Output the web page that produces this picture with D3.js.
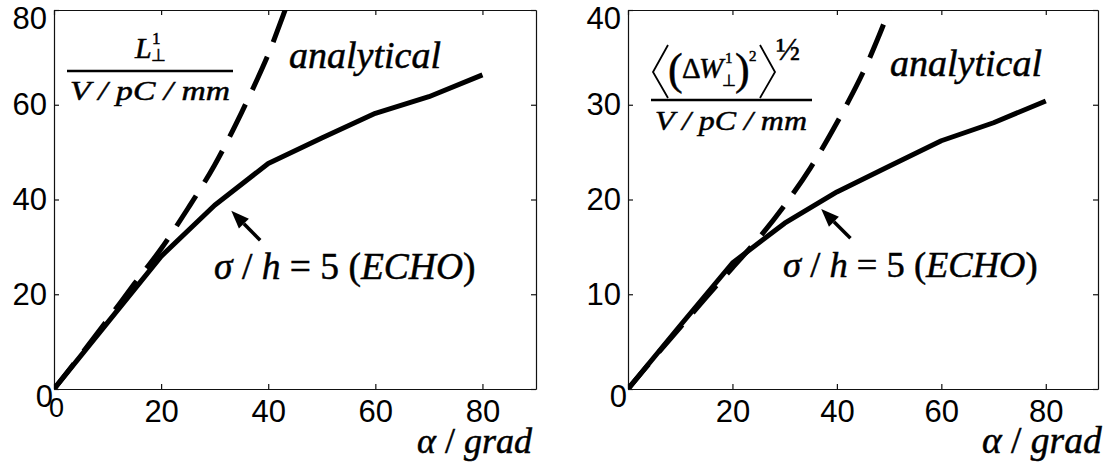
<!DOCTYPE html>
<html><head><meta charset="utf-8">
<script src="https://cdn.jsdelivr.net/npm/d3@7"></script>
<style>
body{margin:0;background:#fff} svg{display:block}
</style>
</head><body>
<svg id="c" width="1114" height="476"></svg>
<script>
// ---- data ----
const alpha = [0,10,20,30,40,50,60,70,80];
const echoL = [0,14,28,38.8,47.6,53,58.2,61.7,66.3];
const echoR = [0,6.7,13.3,17.5,20.8,23.5,26.2,28.1,30.4];
const anaAlphaL = [0,5,10,15,20,25,30,35,40,42,44];
const anaL = [0,7.2,14.6,22.2,29.6,38.1,47.3,58.3,70.6,76.5,82.6];
const anaAlphaR = [0,5,10,15,20,25,30,35,40,45,48,50,51];
const anaR = [0,3.3,6.5,9.7,12.8,15.9,19.4,23.4,28.1,33.4,37.2,40,41.5];
const xTicks = [0,20,40,60,80];
const yTicksL = [0,20,40,60,80];
const yTicksR = [0,10,20,30,40];

const svg = d3.select('#c');
const SERIF = '"Liberation Serif"';
const SANS = '"Liberation Sans"';

// serif text helper
function stxt(g, x, y, size, str, italic){
  return g.append('text').attr('x',x).attr('y',y)
    .style('font-family',SERIF).style('font-size',size+'px')
    .style('font-style', italic ? 'italic' : 'normal')
    .attr('fill','#000').attr('stroke','#000').attr('stroke-width',0.5)
    .text(str);
}

function panel(cfg){
  const g = svg.append('g');
  const x = d3.scaleLinear().domain([0,90]).range([cfg.left,cfg.right]);
  const y = d3.scaleLinear().domain([0,cfg.ymax]).range([cfg.bottom,cfg.top]);
  const id = 'clip'+cfg.id;
  svg.append('clipPath').attr('id',id).append('rect')
    .attr('x',cfg.left).attr('y',cfg.top)
    .attr('width',cfg.right-cfg.left).attr('height',cfg.bottom-cfg.top);

  const styleAxis = sel => {
    sel.attr('font-family',null).attr('font-size',null);
    sel.selectAll('path.domain').attr('stroke','#111').attr('stroke-width',1.2);
    sel.selectAll('.tick line').attr('stroke','#111').attr('stroke-width',1.2);
    sel.selectAll('text').style('font-family',SANS).style('font-size','31px').attr('fill','#000');
  };

  const bx = g.append('g').attr('transform',`translate(0,${cfg.bottom})`)
    .call(d3.axisBottom(x).tickValues(xTicks).tickSizeInner(-5).tickSizeOuter(0).tickPadding(11)
      .tickFormat(d => (d===0 && !cfg.zeroX) ? '' : d));
  styleAxis(bx);
  bx.selectAll('.tick').filter(d=>d===0).select('text').style('font-size','27px').attr('y',9).attr('dx',2);

  const tx = g.append('g').attr('transform',`translate(0,${cfg.top})`)
    .call(d3.axisTop(x).tickValues(xTicks).tickSizeInner(-5).tickSizeOuter(0).tickFormat(''));
  styleAxis(tx);

  const ly = g.append('g').attr('transform',`translate(${cfg.left},0)`)
    .call(d3.axisLeft(y).tickValues(cfg.yticks).tickSizeInner(-5).tickSizeOuter(0).tickPadding(7));
  styleAxis(ly);
  ly.selectAll('.tick').filter(d=>d===cfg.ymax).select('text').attr('dy','0.6em');
  ly.selectAll('.tick').filter(d=>d===0).select('text').attr('x',-1).attr('dy','0.57em');

  const ry = g.append('g').attr('transform',`translate(${cfg.right},0)`)
    .call(d3.axisRight(y).tickValues(cfg.yticks).tickSizeInner(-5).tickSizeOuter(0).tickFormat(''));
  styleAxis(ry);

  const cg = g.append('g').attr('clip-path',`url(#${id})`);
  const lineLin = d3.line().x(d=>x(d[0])).y(d=>y(d[1])).curve(d3.curveLinear);
  const lineSm = d3.line().x(d=>x(d[0])).y(d=>y(d[1])).curve(d3.curveCatmullRom.alpha(0.5));

  cg.append('path').datum(cfg.anaX.map((a,i)=>[a,cfg.anaY[i]]))
    .attr('d',lineSm).attr('fill','none').attr('stroke','#000').attr('stroke-width',5)
    .attr('stroke-dasharray','36,16').attr('stroke-dashoffset',cfg.dashOff);
  cg.append('path').datum(alpha.map((a,i)=>[a,cfg.echo[i]]))
    .attr('d',lineLin).attr('fill','none').attr('stroke','#000').attr('stroke-width',5)
    .attr('stroke-linejoin','round');

  // arrow
  const [ta,tv] = cfg.arrowTail, [ha,hv] = cfg.arrowHead;
  const x1=x(ta), y1=y(tv), x2=x(ha), y2=y(hv);
  const ang = Math.atan2(y2-y1,x2-x1), L=18, Wd=7;
  const bxp = x2 - L*Math.cos(ang), byp = y2 - L*Math.sin(ang);
  g.append('line').attr('x1',x1).attr('y1',y1).attr('x2',bxp).attr('y2',byp)
    .attr('stroke','#000').attr('stroke-width',3.5);
  g.append('polygon').attr('points',[
    [x2,y2],
    [bxp + Wd*Math.sin(ang), byp - Wd*Math.cos(ang)],
    [bxp - Wd*Math.sin(ang), byp + Wd*Math.cos(ang)]
  ].map(p=>p.join(',')).join(' ')).attr('fill','#000');

  // texts
  stxt(g, cfg.anaLab[0], cfg.anaLab[1], 38, 'analytical', true);

  const t = stxt(g, cfg.echoLab[0], cfg.echoLab[1], cfg.echoSize, null, false).style('white-space','pre');
  t.append('tspan').style('font-style','italic').text('σ');
  t.append('tspan').text(' / ');
  t.append('tspan').style('font-style','italic').text('h');
  t.append('tspan').text(' = 5 (');
  t.append('tspan').style('font-style','italic').text('ECHO');
  t.append('tspan').text(')');

  const xl = stxt(g, cfg.xLab[0], cfg.xLab[1], cfg.xLabSize, null, false).style('white-space','pre');
  xl.append('tspan').style('font-style','italic').text('α');
  xl.append('tspan').text(' / ');
  xl.append('tspan').style('font-style','italic').text('grad');

  return {g,x,y};
}

const P1 = panel({id:1,left:54,right:536,top:10,bottom:389,ymax:80,yticks:yTicksL,zeroX:true,
  echo:echoL,anaX:anaAlphaL,anaY:anaL,dashOff:4,
  arrowTail:[38.5,31.4],arrowHead:[33.1,37.6],
  anaLab:[289,68],echoLab:[214,279],echoSize:37.5,xLab:[417,453],xLabSize:36});
const P2 = panel({id:2,left:628,right:1098,top:10,bottom:389,ymax:40,yticks:yTicksR,zeroX:false,
  echo:echoR,anaX:anaAlphaR,anaY:anaR,dashOff:4,
  arrowTail:[42.6,15.9],arrowHead:[37,19],
  anaLab:[890,76],echoLab:[783,277],echoSize:36.5,xLab:[982,453],xLabSize:37.5});

// ---- y-axis label, left: L^1_perp / (V/pC/mm) ----
{
  const g = P1.g;
  stxt(g,135,58,30,'L',true);
  stxt(g,152,44,17,'1',false);
  stxt(g,151,61,17,'⊥',false);
  g.append('line').attr('x1',67).attr('x2',233).attr('y1',71).attr('y2',71).attr('stroke','#000').attr('stroke-width',2.5);
  stxt(g,70,100,28,'V / pC / mm',true)
    .attr('textLength',160).attr('lengthAdjust','spacingAndGlyphs').style('white-space','pre');
}
// ---- y-axis label, right: <(ΔW^1_perp)^2>^(1/2) / (V/pC/mm) ----
{
  const g = P2.g;
  g.append('path').attr('d','M668,45 L653,72 L668,98').attr('fill','none').attr('stroke','#000').attr('stroke-width',1.8);
  g.append('path').attr('d','M760,45 L775,72 L760,98').attr('fill','none').attr('stroke','#000').attr('stroke-width',1.8);
  stxt(g,668,84,44,'(',false);
  stxt(g,682,78,29,'Δ',false);
  stxt(g,699,78,29,'W',true);
  stxt(g,725,63,15,'1',false);
  stxt(g,722,86,16,'⊥',false);
  stxt(g,735,84,44,')',false);
  stxt(g,749,61,15,'2',false);
  stxt(g,776,60,32,'½',false);
  g.append('line').attr('x1',651).attr('x2',812).attr('y1',100).attr('y2',100).attr('stroke','#000').attr('stroke-width',2.5);
  stxt(g,655,130,28,'V / pC / mm',true)
    .attr('textLength',152).attr('lengthAdjust','spacingAndGlyphs').style('white-space','pre');
}
</script>
</body></html>
